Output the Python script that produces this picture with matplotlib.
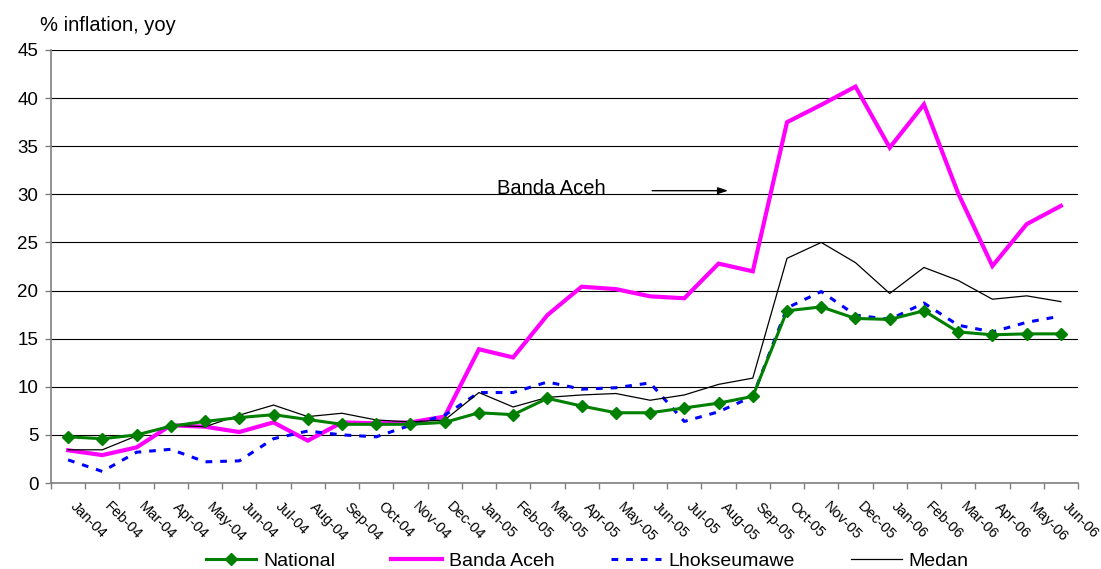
import matplotlib
matplotlib.use("Agg")
import matplotlib.pyplot as plt
import matplotlib.transforms as mtransforms
import numpy as np

plt.rcParams['font.family'] = ['Liberation Sans', 'DejaVu Sans']

months = ["Jan-04", "Feb-04", "Mar-04", "Apr-04", "May-04", "Jun-04", "Jul-04", "Aug-04",
          "Sep-04", "Oct-04", "Nov-04", "Dec-04", "Jan-05", "Feb-05", "Mar-05", "Apr-05",
          "May-05", "Jun-05", "Jul-05", "Aug-05", "Sep-05", "Oct-05", "Nov-05", "Dec-05",
          "Jan-06", "Feb-06", "Mar-06", "Apr-06", "May-06", "Jun-06"]

national = [4.8, 4.6, 5.0, 5.9, 6.4, 6.8, 7.1, 6.6, 6.1, 6.1, 6.1, 6.3,
            7.3, 7.1, 8.8, 8.0, 7.3, 7.3, 7.8, 8.3, 9.0, 17.9, 18.3, 17.1,
            17.0, 17.9, 15.7, 15.4, 15.5, 15.5]
banda_aceh = [3.4, 2.9, 3.7, 6.0, 5.85, 5.3, 6.3, 4.4, 6.3, 6.2, 6.3, 6.9,
              13.9, 13.05, 17.45, 20.4, 20.15, 19.4, 19.2, 22.8, 22.0, 37.5, 39.3, 41.2,
              34.85, 39.35, 30.1, 22.55, 26.9, 28.8]
lhokseumawe = [2.4, 1.2, 3.2, 3.5, 2.2, 2.3, 4.6, 5.4, 5.0, 4.8, 6.0, 7.05,
               9.4, 9.4, 10.5, 9.75, 9.9, 10.4, 6.4, 7.4, 9.0, 18.2, 19.9, 17.45,
               17.0, 18.7, 16.4, 15.7, 16.7, 17.35]
medan = [3.45, 3.45, 4.9, 6.0, 5.85, 7.05, 8.1, 6.9, 7.25, 6.55, 6.35, 6.55,
         9.4, 7.9, 8.9, 9.15, 9.3, 8.6, 9.15, 10.25, 10.9, 23.35, 25.0, 22.9,
         19.7, 22.4, 21.05, 19.1, 19.45, 18.85]

y_ticks = [0, 5, 10, 15, 20, 25, 30, 35, 40, 45]

fig = plt.figure(figsize=(11.01, 5.69), dpi=100)
ax = fig.add_axes([51 / 1101, 1 - 483 / 569, (1078 - 51) / 1101, (483 - 50) / 569])

x = np.arange(len(months))

ax.plot(x, banda_aceh, color="#FF00FF", lw=3.0, zorder=3, label="Banda Aceh",
        solid_joinstyle="miter")
ax.plot(x, lhokseumawe, color="#0000FF", lw=2.2, ls=(0, (2.2, 2.6)), zorder=4,
        label="Lhokseumawe")
ax.plot(x, medan, color="black", lw=0.9, zorder=5, label="Medan")
ax.plot(x, national, color="#008000", lw=2.2, marker="D", markersize=6.5,
        markerfacecolor="#008000", markeredgecolor="#008000", zorder=6, label="National")

ax.set_xlim(-0.5, len(months) - 0.5)
ax.set_ylim(0, 45)

# horizontal gridlines
ax.set_yticks(y_ticks)
ax.yaxis.grid(True, color="black", lw=0.8)
ax.set_axisbelow(True)

for s in ["top", "right"]:
    ax.spines[s].set_visible(False)
for s in ["left", "bottom"]:
    ax.spines[s].set_color("#808080")
    ax.spines[s].set_linewidth(1.2)

ax.tick_params(axis="y", direction="out", length=4, width=1, color="#808080",
               labelsize=13.5, pad=5)

# category boundaries carry the tick marks, centres carry the labels
ax.set_xticks(np.arange(-0.5, len(months), 1.0))
ax.set_xticklabels([])
ax.tick_params(axis="x", which="major", direction="out", length=4, width=1, color="#808080")
ax.set_xticks(x, minor=True)
ax.set_xticklabels(months, minor=True, rotation=-45, ha="left", va="top",
                   rotation_mode="anchor", fontsize=10.5)
ax.tick_params(axis="x", which="minor", length=0, pad=12)
shift = mtransforms.ScaledTranslation(9 / 100, 0, fig.dpi_scale_trans)
for lab in ax.get_xticklabels(minor=True):
    lab.set_transform(lab.get_transform() + shift)

fig.text(40 / 1101, 1 - 31 / 569, "% inflation, yoy", fontsize=14.5, va="baseline", ha="left")

# annotation for the Banda Aceh series
ax.text(12.53, 30.04, "Banda Aceh", fontsize=14.5, ha="left", va="baseline")
ax.annotate("", xy=(19.28, 30.38), xytext=(17.06, 30.38),
            arrowprops=dict(arrowstyle="-|>,head_length=0.6,head_width=0.2",
                            color="black", lw=1.0, shrinkA=0, shrinkB=0))

handles, labels = ax.get_legend_handles_labels()
order = [labels.index(n) for n in ["National", "Banda Aceh", "Lhokseumawe", "Medan"]]
fig.legend([handles[i] for i in order], [labels[i] for i in order],
           loc="center", bbox_to_anchor=(587 / 1101, 1 - 561 / 569), ncol=4,
           frameon=False, fontsize=14, handlelength=2.6, handletextpad=0.35,
           columnspacing=2.9, borderpad=0, borderaxespad=0)

fig.savefig("out.png", dpi=100)
